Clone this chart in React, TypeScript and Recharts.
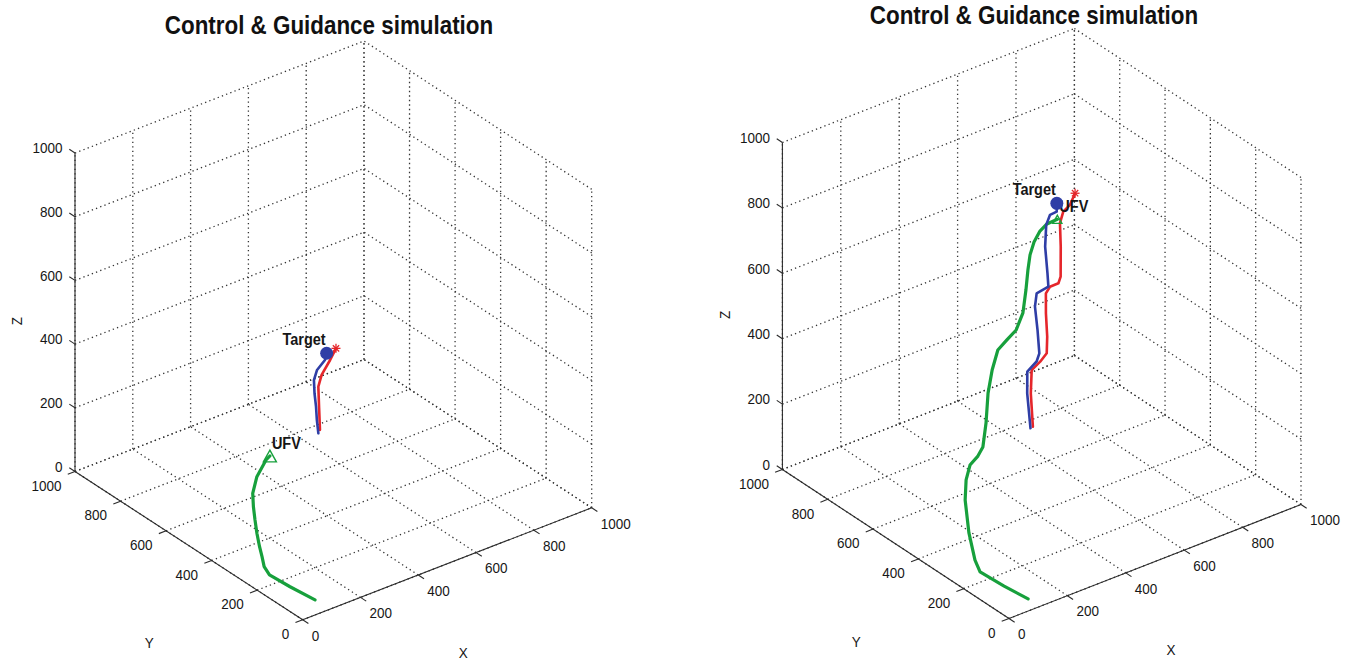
import { ScatterChart, Scatter, XAxis, YAxis } from 'recharts';

type P3 = [number, number, number];

const W = 1361;
const H = 660;
const FONT = '"Liberation Sans", Arial, Helvetica, sans-serif';

const title = 'Control & Guidance simulation';
const axisTicks = [0, 200, 400, 600, 800, 1000];
const tickLabels = ['0', '200', '400', '600', '800', '1000'];
const axisMax = 1000;

// left run: [x, y, z]
const leftUfv: P3[] = [
  [93, 64, 0], [72, 147, 10], [56, 217, 20], [51, 234, 40], [58, 252, 60],
  [65, 272, 80], [82, 305, 100], [102, 339, 120], [121, 370, 140], [143, 401, 160],
  [181, 431, 185], [230, 453, 210], [241, 450, 220],
];
const leftTarget: P3[] = [
  [549, 628, 100], [547, 632, 140], [548, 637, 180], [546, 641, 220], [547, 645, 260],
  [561, 649, 285], [590, 651, 305], [595, 650, 325],
];
const leftPredict: P3[] = [
  [564, 640, 100], [561, 640, 170], [556, 637, 240], [565, 634, 275], [596, 636, 310],
  [621, 642, 335],
];

// right run
const rightUfv: P3[] = [
  [105, 51, 0], [88, 135, 7], [74, 223, 15], [76, 248, 39], [94, 298, 93],
  [123, 352, 159], [148, 380, 199], [173, 395, 229], [200, 395, 247], [221, 400, 265],
  [255, 430, 313], [293, 470, 373], [328, 497, 419], [363, 517, 459], [394, 517, 479],
  [425, 516, 499], [459, 530, 533], [491, 558, 579], [518, 584, 619], [540, 603, 649],
  [563, 615, 675], [588, 621, 697], [611, 620, 711], [639, 610, 720],
];
const rightTarget: P3[] = [
  [561, 628, 100], [559, 640, 202], [564, 646, 264], [585, 632, 294], [592, 629, 318],
  [592, 637, 386], [591, 647, 453], [596, 646, 492], [623, 629, 511], [623, 633, 550],
  [622, 642, 628], [628, 645, 691], [638, 641, 720], [653, 631, 729], [655, 633, 753],
];
const rightPredict: P3[] = [
  [566, 624, 105], [569, 637, 200], [572, 637, 270], [591, 624, 295], [608, 617, 318],
  [612, 620, 366], [613, 627, 434], [616, 631, 492], [626, 626, 511], [645, 613, 521],
  [651, 611, 540], [656, 617, 628], [658, 623, 696], [667, 620, 729], [682, 610, 749],
  [695, 604, 783],
];

// view of each 3d box (matlab-ish az/el), page px per data unit
type View = {
  ox: number; oy: number;
  ex: [number, number]; ey: [number, number]; ez: number;
  titleX: number; titleY: number; markSize: number;
};

const leftView: View = {
  ox: 302.7, oy: 619.8, ex: [0.289, -0.112], ey: [-0.2277, -0.1483], ez: 0.3185,
  titleX: 329, titleY: 26, markSize: 13,
};
const rightView: View = {
  ox: 1009, oy: 618.5, ex: [0.292, -0.114], ey: [-0.2266, -0.149], ez: 0.327,
  titleX: 1034, titleY: 16, markSize: 9,
};

const project = (view: View, [x, y, z]: P3) => ({
  u: view.ox + view.ex[0] * x + view.ey[0] * y,
  v: view.oy + view.ex[1] * x + view.ey[1] * y - view.ez * z,
});

const GREEN = '#17a03c';
const BLUE = '#2f3ea6';
const RED = '#e5262b';

const noDot = () => <g />;

const textShape =
  (anchor: 'start' | 'end' | 'middle', dx: number, dy: number, size: number, bold = false, rotate = 0) =>
  (p: any) => (
    <g transform={`translate(${p.cx + dx},${p.cy + dy}) rotate(${rotate}) scale(1,1.12)`}>
      <text
        x={0}
        y={0}
        textAnchor={anchor}
        dominantBaseline="central"
        fontSize={size}
        fontWeight={bold ? 'bold' : 'normal'}
        fontFamily={FONT}
        fill="#161616"
      >
        {p.payload.label}
      </text>
    </g>
  );

const dotShape = (p: any) => <circle cx={p.cx} cy={p.cy} r={6.5} fill={BLUE} />;

const triShape = (size: number) => (p: any) => {
  const h = size * 0.9;
  return (
    <path
      d={`M${p.cx},${p.cy - h / 2} L${p.cx + size / 2},${p.cy + h / 2} L${p.cx - size / 2},${p.cy + h / 2} Z`}
      fill="none"
      stroke={GREEN}
      strokeWidth={1.4}
    />
  );
};

const starShape = (p: any) => {
  const r = 4.5;
  const d = r * 0.7;
  return (
    <g stroke={RED} strokeWidth={1.3}>
      <line x1={p.cx - r} y1={p.cy} x2={p.cx + r} y2={p.cy} />
      <line x1={p.cx} y1={p.cy - r} x2={p.cx} y2={p.cy + r} />
      <line x1={p.cx - d} y1={p.cy - d} x2={p.cx + d} y2={p.cy + d} />
      <line x1={p.cx - d} y1={p.cy + d} x2={p.cx + d} y2={p.cy - d} />
    </g>
  );
};

function gridSegments(): P3[][] {
  const segs: P3[][] = [];
  for (const t of axisTicks) {
    segs.push([[t, 0, 0], [t, axisMax, 0]]);
    segs.push([[0, t, 0], [axisMax, t, 0]]);
    segs.push([[t, axisMax, 0], [t, axisMax, axisMax]]);
    segs.push([[0, axisMax, t], [axisMax, axisMax, t]]);
    segs.push([[axisMax, t, 0], [axisMax, t, axisMax]]);
    segs.push([[axisMax, 0, t], [axisMax, axisMax, t]]);
  }
  return segs;
}

function panel(id: string, view: View, ufv: P3[], target: P3[], predict: P3[]) {
  const pr = (p: P3) => project(view, p);
  const tick = 25;
  const items: any[] = [];

  gridSegments().forEach((seg, i) => {
    items.push(
      <Scatter
        key={`${id}-grid-${i}`}
        data={seg.map(pr)}
        fill="none"
        shape={noDot}
        line={{ stroke: '#333', strokeWidth: 1.3, strokeDasharray: '1.3 3.2' }}
        isAnimationActive={false}
      />
    );
  });

  const axes: P3[][] = [
    [[0, 0, 0], [axisMax, 0, 0]],
    [[0, 0, 0], [0, axisMax, 0]],
    [[0, axisMax, 0], [0, axisMax, axisMax]],
  ];
  axisTicks.forEach((t) => {
    axes.push([[t, 0, 0], [t, -tick, 0]]);
    axes.push([[0, t, 0], [-tick, t, 0]]);
    axes.push([[0, axisMax, t], [0, axisMax + tick, t]]);
  });
  axes.forEach((seg, i) => {
    items.push(
      <Scatter
        key={`${id}-axis-${i}`}
        data={seg.map(pr)}
        fill="none"
        shape={noDot}
        line={{ stroke: '#2b2b2b', strokeWidth: 1.1 }}
        isAnimationActive={false}
      />
    );
  });

  const xLabels = axisTicks.map((t, i) => ({ ...pr([t, 0, 0]), label: tickLabels[i] }));
  const yLabels = axisTicks.map((t, i) => ({ ...pr([0, t, 0]), label: tickLabels[i] }));
  const zLabels = axisTicks.map((t, i) => ({ ...pr([0, axisMax, t]), label: tickLabels[i] }));
  items.push(
    <Scatter key={`${id}-xl`} data={xLabels} shape={textShape('start', 9, 15.5, 13.5)} isAnimationActive={false} />,
    <Scatter key={`${id}-yl`} data={yLabels} shape={textShape('end', -13.5, 14, 13.5)} isAnimationActive={false} />,
    <Scatter key={`${id}-zl`} data={zLabels} shape={textShape('end', -12.5, -5, 13.5)} isAnimationActive={false} />,
    <Scatter
      key={`${id}-xn`}
      data={[{ ...pr([axisMax / 2, 0, 0]), label: 'X' }]}
      shape={textShape('middle', 16, 88.5, 13.5)}
      isAnimationActive={false}
    />,
    <Scatter
      key={`${id}-yn`}
      data={[{ ...pr([0, axisMax / 2, 0]), label: 'Y' }]}
      shape={textShape('middle', -39.5, 97.5, 13.5)}
      isAnimationActive={false}
    />,
    <Scatter
      key={`${id}-zn`}
      data={[{ ...pr([0, axisMax, axisMax / 2]), label: 'Z' }]}
      shape={textShape('middle', -58, 9, 13.5, false, -90)}
      isAnimationActive={false}
    />
  );

  const paths: [P3[], string, number][] = [
    [ufv, GREEN, 3.2],
    [predict, RED, 2.6],
    [target, BLUE, 2.6],
  ];
  paths.forEach(([pts, color, w], i) => {
    items.push(
      <Scatter
        key={`${id}-path-${i}`}
        data={pts.map(pr)}
        fill="none"
        shape={noDot}
        line={{ stroke: color, strokeWidth: w, strokeLinejoin: 'round', strokeLinecap: 'round' }}
        isAnimationActive={false}
      />
    );
  });

  const ufvEnd = ufv[ufv.length - 1];
  const targetEnd = target[target.length - 1];
  const predictEnd = predict[predict.length - 1];
  items.push(
    <Scatter key={`${id}-star`} data={[pr(predictEnd)]} shape={starShape} isAnimationActive={false} />,
    <Scatter key={`${id}-tri`} data={[pr(ufvEnd)]} shape={triShape(view.markSize)} isAnimationActive={false} />,
    <Scatter
      key={`${id}-ufv-l`}
      data={[{ ...pr(ufvEnd), label: 'UFV' }]}
      shape={textShape('start', 2, -13, 14.5, true)}
      isAnimationActive={false}
    />,
    <Scatter
      key={`${id}-tgt-l`}
      data={[{ ...pr(targetEnd), label: 'Target' }]}
      shape={textShape('end', -1, -14, 14.5, true)}
      isAnimationActive={false}
    />,
    <Scatter key={`${id}-dot`} data={[pr(targetEnd)]} shape={dotShape} isAnimationActive={false} />
  );
  return items;
}

const titleStyle = (view: View): React.CSSProperties => ({
  position: 'absolute',
  left: view.titleX - 250,
  top: view.titleY - 12,
  width: 500,
  height: 24,
  lineHeight: '24px',
  textAlign: 'center',
  fontFamily: FONT,
  fontWeight: 'bold',
  fontSize: 22.4,
  color: '#111',
  whiteSpace: 'nowrap',
  transform: 'scaleY(1.15)',
});

export default function App() {
  return (
    <div style={{ position: 'absolute', left: 0, top: 0, width: W, height: H, background: '#fff', overflow: 'hidden' }}>
      <ScatterChart width={W} height={H} margin={{ top: 0, right: 0, bottom: 0, left: 0 }}>
        <XAxis type="number" dataKey="u" domain={[0, W]} allowDataOverflow hide />
        <YAxis type="number" dataKey="v" domain={[0, H]} allowDataOverflow reversed hide />
        {panel('left', leftView, leftUfv, leftTarget, leftPredict)}
        {panel('right', rightView, rightUfv, rightTarget, rightPredict)}
      </ScatterChart>
      <div style={titleStyle(leftView)}>{title}</div>
      <div style={titleStyle(rightView)}>{title}</div>
    </div>
  );
}
